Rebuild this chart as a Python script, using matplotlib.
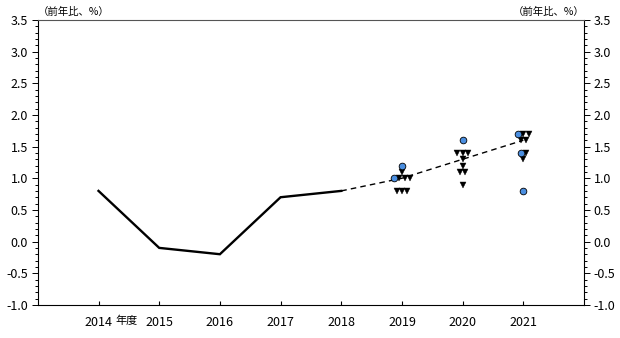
import matplotlib.pyplot as plt
from matplotlib.ticker import MultipleLocator, FormatStrFormatter

plt.rcParams['font.family'] = ['Noto Sans CJK JP', 'DejaVu Sans']

# 実績（年度）
actual_years = [2014, 2015, 2016, 2017, 2018]
actual_values = [0.8, -0.1, -0.2, 0.7, 0.8]

# 見通しの中央値
median_years = [2018, 2019, 2020, 2021]
median_values = [0.8, 1.0, 1.3, 1.6]

# 各委員の見通し（●と▼）
forecast_years = [2019, 2020, 2021]
circle_values = [
    [1.2, 1.0],
    [1.6],
    [1.7, 1.4, 0.8],
]
triangle_values = [
    [1.1, 1.0, 1.0, 1.0, 0.8, 0.8, 0.8],
    [1.4, 1.4, 1.4, 1.3, 1.2, 1.1, 1.1, 0.9],
    [1.7, 1.7, 1.6, 1.6, 1.4, 1.3],
]

year_ticks = [2014, 2015, 2016, 2017, 2018, 2019, 2020, 2021]

fig = plt.figure(figsize=(6.2, 3.38), dpi=100)
ax = fig.add_axes([0.061, 0.098, 0.881, 0.843])

ax.plot(actual_years, actual_values, color='black', lw=1.7, solid_joinstyle='miter')
ax.plot(median_years, median_values, color='black', lw=1.0, ls=(0, (4, 3)))

# 同じ値の点は横に並べる
dx = 0.088
for yr, circs, tris in zip(forecast_years, circle_values, triangle_values):
    for v in sorted(set(circs + tris), reverse=True):
        kinds = ['o'] * circs.count(v) + ['v'] * tris.count(v)
        n = len(kinds)
        for i, k in enumerate(kinds):
            x = yr + (i - (n - 1) / 2) * dx
            if k == 'o':
                ax.plot(x, v, 'o', ms=4.8, mfc='#4a8ee0', mec='black', mew=0.6, zorder=4)
            else:
                ax.plot(x, v, 'v', ms=5.0, mfc='black', mec='black', mew=0.3, zorder=3)

ax.set_xlim(2013, 2022)
ax.set_ylim(-1.0, 3.5)
ax.set_xticks(year_ticks)
ax.set_xticklabels([str(y) for y in year_ticks])
ax.yaxis.set_major_locator(MultipleLocator(0.5))
ax.yaxis.set_minor_locator(MultipleLocator(0.1))
ax.yaxis.set_major_formatter(FormatStrFormatter('%.1f'))

ax.tick_params(axis='x', direction='in', length=3, width=0.8, labelsize=9, pad=8)
ax.tick_params(axis='y', which='both', direction='out', left=True, right=True,
               labelleft=True, labelright=True, labelsize=9, width=0.7)
ax.tick_params(axis='y', which='major', length=4, pad=3)
ax.tick_params(axis='y', which='minor', length=2.5)

for s in ax.spines.values():
    s.set_linewidth(0.8)
ax.spines['top'].set_color('#555555')

ax.text(0, 1.01, '（前年比、%）', transform=ax.transAxes, ha='left', va='bottom', fontsize=7.5)
ax.text(1, 1.01, '（前年比、%）', transform=ax.transAxes, ha='right', va='bottom', fontsize=7.5)
# 「年度」は目盛ラベルと同じ高さ
ax.annotate('年度', xy=(2014.47, 0), xycoords=ax.get_xaxis_transform(),
            xytext=(0, -8), textcoords='offset points', ha='center', va='top', fontsize=8)

fig.savefig('out.png', dpi=100)
